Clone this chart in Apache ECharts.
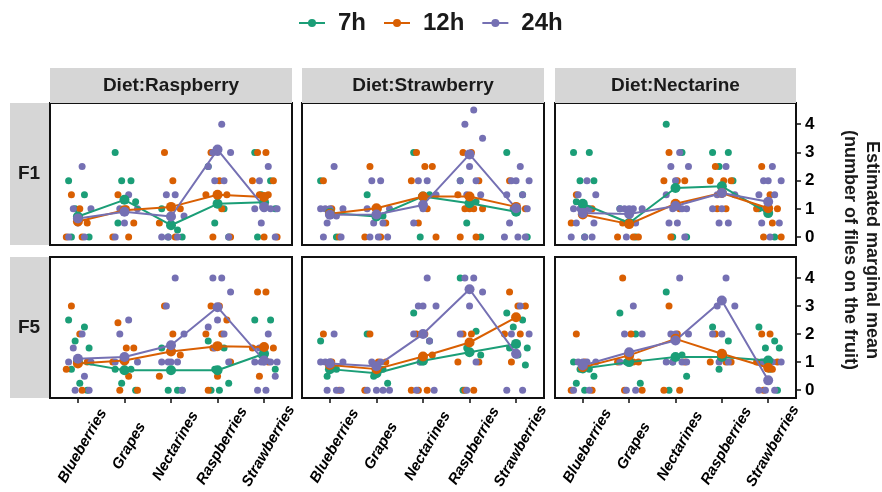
<!DOCTYPE html>
<html>
<head>
<meta charset="utf-8">
<script src="https://cdn.jsdelivr.net/npm/echarts@6/dist/echarts.min.js"></script>
<style>
  html, body { margin: 0; background: #fff; }
  #chart { width: 882px; height: 492px; }
</style>
</head>
<body>
<div id="chart"></div>
<script>
// categories
const fruits = ['Blueberries', 'Grapes', 'Nectarines', 'Raspberries', 'Strawberries'];
const times = ['7h', '12h', '24h'];
const diets = ['Diet:Raspberry', 'Diet:Strawberry', 'Diet:Nectarine'];
const flies = ['F1', 'F5'];
const yTicks = [0, 1, 2, 3, 4];

// estimated marginal means: [7h, 12h, 24h] x fruit
const meanF1Raspberry = [[0.73, 1.32, 0.42, 1.18, 1.23], [0.55, 0.95, 1.07, 1.5, 1.42], [0.66, 0.9, 0.73, 3.1, 1.07]];
const meanF1Strawberry = [[0.85, 0.73, 1.44, 1.2, 0.9], [0.83, 1.02, 1.44, 1.44, 1.07], [0.79, 0.8, 1.14, 2.93, 1.02]];
const meanF1Nectarine = [[1.18, 0.5, 1.74, 1.8, 0.85], [0.8, 0.46, 1.18, 1.56, 1.02], [0.85, 0.82, 1.1, 1.56, 1.25]];
const meanF5Raspberry = [[1.0, 0.71, 0.71, 0.71, 1.3], [0.95, 1.06, 1.38, 1.57, 1.54], [1.12, 1.18, 1.6, 2.96, 1.06]];
const meanF5Strawberry = [[0.75, 0.6, 1.05, 1.35, 1.65], [0.9, 0.75, 1.2, 1.7, 2.6], [0.95, 0.85, 2.0, 3.6, 1.3]];
const meanF5Nectarine = [[0.77, 1.0, 1.18, 1.18, 1.06], [0.82, 1.24, 1.83, 1.3, 0.8], [0.88, 1.35, 1.77, 3.2, 0.35]];

// observed counts: [7h, 12h, 24h] x fruit x observations
const ptsF1Raspberry = [
  [[2, 1.5, 1, 0, 0], [3, 2, 2, 1.25, 0.5], [1, 0.25, 0, 0], [2.5, 1, 0.5, 0], [3, 2, 1.5, 1, 0]],
  [[1.5, 1, 0.5, 0, 0], [1.5, 1, 0.5, 0, 0], [3, 2, 1, 0.5, 0], [3, 2, 1.5, 1.5, 1, 0, 0], [3, 3, 2, 2, 1.5, 1.5, 0, 0]],
  [[2.5, 1, 1, 0.5, 0, 0], [1.5, 1, 1, 0.5, 0], [1.5, 1.5, 0.75, 0.5, 0, 0, 0], [4, 3, 3, 3, 2.5, 2, 2, 0], [2.5, 2, 1, 1, 1, 1, 0.5, 0]]
];
const ptsF1Strawberry = [
  [[2, 0], [1.5, 0.75], [3, 1.5, 0], [2, 1.25, 0.5, 0], [3, 1.5, 1, 0]],
  [[2, 1, 0], [2.5, 1, 0.5, 0, 0], [3, 2.5, 2.5, 2, 1, 0.5, 0], [3, 3, 2, 1.5, 1, 1, 1, 1, 0, 0], [2, 1, 1]],
  [[2.5, 1, 1, 1, 1, 0.75, 0.5, 0, 0], [2, 2, 1, 1, 1, 0.5, 0.5, 0, 0, 0], [2, 2, 1.5, 1, 0.5], [4.5, 4, 3.5, 2.5, 2, 2, 1.5, 1.5], [2.5, 2, 2, 2, 1.5, 1.5, 1, 1, 0.5, 0, 0, 0]]
];
const ptsF1Nectarine = [
  [[3, 3, 2, 2, 1.25, 0], [1, 0], [4, 3, 0, 0], [3, 3, 2.5, 2], [1, 0]],
  [[1.5, 1, 1, 0.5], [0.5, 0.5, 0, 0, 0], [3, 2, 2, 2, 1, 0], [2.5, 2, 2, 2, 1, 1], [2.5, 1.5, 1, 1, 0.5, 0, 0]],
  [[2, 1.5, 1.5, 1, 1, 1, 1, 0.5, 0.5, 0, 0, 0], [1, 1, 1, 1, 1, 0.5, 0], [3, 2.5, 2.5, 2, 1.5, 1, 1, 1, 0.5, 0.5, 0], [2.5, 1.5, 1.5, 1, 1, 0.5, 0.5], [2.5, 2, 2, 2, 1.5, 1.5, 1, 0.5, 0.5, 0]]
];
const ptsF5Raspberry = [
  [[2.5, 2.25, 1.75, 1.5, 0.75, 0.25, 0], [0.75, 0.75, 0.25, 0], [1.5, 0, 0, 0], [1.75, 1.5, 0.75, 0.25, 0, 0], [2.5, 2.5, 1.25, 0.75]],
  [[3, 2, 1, 0.75, 0], [2.4, 1.5, 1.5, 1, 0.5, 0, 0], [3, 2, 1.25, 0.5], [3, 3, 2.5, 2, 2, 1.5, 1, 0.5, 0], [3.5, 3.5, 1.5, 1.5, 1, 0.5]],
  [[2, 1.5, 1, 1, 1, 0.5, 0, 0], [2.5, 2, 1, 1, 1], [4, 3, 2, 1, 1, 1, 1, 0], [4, 4, 3.5, 2.5, 2.25, 2, 1.5, 1], [2, 1.5, 1, 1, 1, 1, 1, 0.5, 0, 0]]
];
const ptsF5Strawberry = [
  [[1.75, 0.75, 0.5], [2, 0.75, 0.5, 0.25], [2.75, 1.75, 1], [4, 2.1, 1.5, 1.25, 0], [2.75, 2.5, 2.25, 1.5, 1.5, 1.25, 0.9]],
  [[2, 1, 0], [2, 1, 1, 0], [2, 2, 1.25, 0, 0, 0], [2, 2, 1, 1, 0, 0], [3.5, 3, 3, 2, 2, 1]],
  [[2, 1, 1, 1, 1, 0, 0, 0], [1, 1, 0, 0, 0, 0], [4, 3, 3, 3, 2, 1.75, 1, 0, 0], [4, 4, 3.5, 3, 2, 1, 0], [3, 2, 2, 1.25, 0, 0]]
];
const ptsF5Nectarine = [
  [[1, 0.75, 0.75, 0.5, 0.25, 0], [2.75, 2, 1, 0.25], [3.5, 1.25, 1, 0.5, 0], [2.25, 1.75, 0.75], [2.25, 1.75, 1.5, 1.5, 1, 0.75, 0]],
  [[2, 1, 0, 0], [4, 2, 1, 1, 1, 0, 0], [3, 2, 1, 0, 0], [2, 1.25, 1, 1, 1], [2, 2, 1, 1, 0.75, 0]],
  [[1, 1, 1, 1, 0, 0], [3, 2, 2, 1.25, 1, 0, 0], [4, 2, 2, 2, 1, 1, 1, 1], [4, 3, 3, 2, 2, 1, 1], [1, 1, 1, 0.35, 0, 0, 0]]
];

const panels = [
  [meanF1Raspberry, ptsF1Raspberry], [meanF1Strawberry, ptsF1Strawberry], [meanF1Nectarine, ptsF1Nectarine],
  [meanF5Raspberry, ptsF5Raspberry], [meanF5Strawberry, ptsF5Strawberry], [meanF5Nectarine, ptsF5Nectarine]
];

const colors = ['#1B9E77', '#D95F02', '#7570B3'];
const font = '"Liberation Sans", Arial, sans-serif';
const cols = [{ left: 50, width: 242 }, { left: 302, width: 242 }, { left: 555, width: 241 }];
const rows = [{ top: 103, height: 142 }, { top: 257, height: 141 }];
// fixed horizontal spread for the raw points (like geom_jitter, but repeatable)
const spread = [-0.2, 0.14, -0.06, 0.24, -0.14, 0.04, 0.2, -0.25, 0.09, -0.1, 0.28, 0.0];

const chart = echarts.init(document.getElementById('chart'));

const grids = [], xAxes = [], yAxes = [], lines = [], dots = [], graphics = [];

panels.forEach(function (p, idx) {
  const r = Math.floor(idx / 3), c = idx % 3;
  grids.push({
    left: cols[c].left, width: cols[c].width, top: rows[r].top, height: rows[r].height,
    show: true, borderColor: '#111', borderWidth: 2
  });
  xAxes.push({
    type: 'value', gridIndex: idx, min: -0.6, max: 4.6,
    axisLine: { show: false, onZero: false }, splitLine: { show: false },
    axisTick: { show: r === 1, customValues: [0, 1, 2, 3, 4], length: 5, lineStyle: { color: '#111', width: 1.5 } },
    axisLabel: {
      show: r === 1, customValues: [0.1, 1.1, 2.1, 3.1, 4.1],
      formatter: function (v) { return fruits[Math.round(v)]; },
      rotate: 60, align: 'center', verticalAlign: 'middle', margin: 48,
      fontFamily: font, fontStyle: 'italic', fontWeight: 'bold', fontSize: 15, color: '#000'
    }
  });
  yAxes.push({
    type: 'value', gridIndex: idx, min: -0.28, max: 4.75, position: 'right',
    axisLine: { show: false, onZero: false }, splitLine: { show: false },
    axisTick: { show: c === 2, customValues: yTicks, length: 5, lineStyle: { color: '#111', width: 1.5 } },
    axisLabel: {
      show: c === 2, customValues: yTicks, margin: 9,
      fontFamily: font, fontWeight: 'bold', fontSize: 17, color: '#000'
    }
  });
  const means = p[0], pts = p[1];
  times.forEach(function (t, ti) {
    lines.push({
      name: t, type: 'line', xAxisIndex: idx, yAxisIndex: idx,
      data: means[ti].map(function (v, i) { return [i, v]; }),
      symbol: 'circle', symbolSize: 10, z: 4,
      lineStyle: { color: colors[ti], width: 2 }, itemStyle: { color: colors[ti] }
    });
    const d = [];
    pts[ti].forEach(function (vals, i) {
      vals.forEach(function (v, k) { d.push([i + spread[(k + ti * 4) % spread.length], v]); });
    });
    dots.push({
      name: t, type: 'scatter', xAxisIndex: idx, yAxisIndex: idx, data: d,
      symbolSize: 7, z: 2, itemStyle: { color: colors[ti], opacity: 1 }
    });
  });
});

// facet strips
diets.forEach(function (d, c) {
  graphics.push({ type: 'rect', shape: { x: cols[c].left, y: 68, width: cols[c].width, height: 35 }, style: { fill: '#D6D6D6' } });
  graphics.push({ type: 'text', x: cols[c].left + cols[c].width / 2, y: 86,
    style: { text: d, font: 'bold 19px ' + font, fill: '#1a1a1a', align: 'center', verticalAlign: 'middle', textAlign: 'center', textVerticalAlign: 'middle' } });
});
flies.forEach(function (f, r) {
  graphics.push({ type: 'rect', shape: { x: 10, y: rows[r].top, width: 39, height: rows[r].height }, style: { fill: '#D6D6D6' } });
  graphics.push({ type: 'text', x: 29, y: rows[r].top + rows[r].height / 2,
    style: { text: f, font: 'bold 19px ' + font, fill: '#1a1a1a', align: 'center', verticalAlign: 'middle', textAlign: 'center', textVerticalAlign: 'middle' } });
});
// right axis title
graphics.push({ type: 'text', x: 861, y: 250, rotation: -Math.PI / 2,
  style: { text: 'Estimated marginal mean\n(number of files on the fruit)', font: 'bold 18px ' + font, lineHeight: 22, fill: '#1a1a1a',
    align: 'center', verticalAlign: 'middle', textAlign: 'center', textVerticalAlign: 'middle' } });

chart.setOption({
  animation: false,
  color: colors,
  legend: {
    data: times, top: 6, left: 293, itemWidth: 26, itemHeight: 10, itemGap: 17,
    textStyle: { fontFamily: font, fontSize: 24, fontWeight: 'bold', color: '#1a1a1a', padding: [0, 0, 0, 8] }
  },
  grid: grids, xAxis: xAxes, yAxis: yAxes,
  series: lines.concat(dots),
  graphic: graphics
});
</script>
</body>
</html>
